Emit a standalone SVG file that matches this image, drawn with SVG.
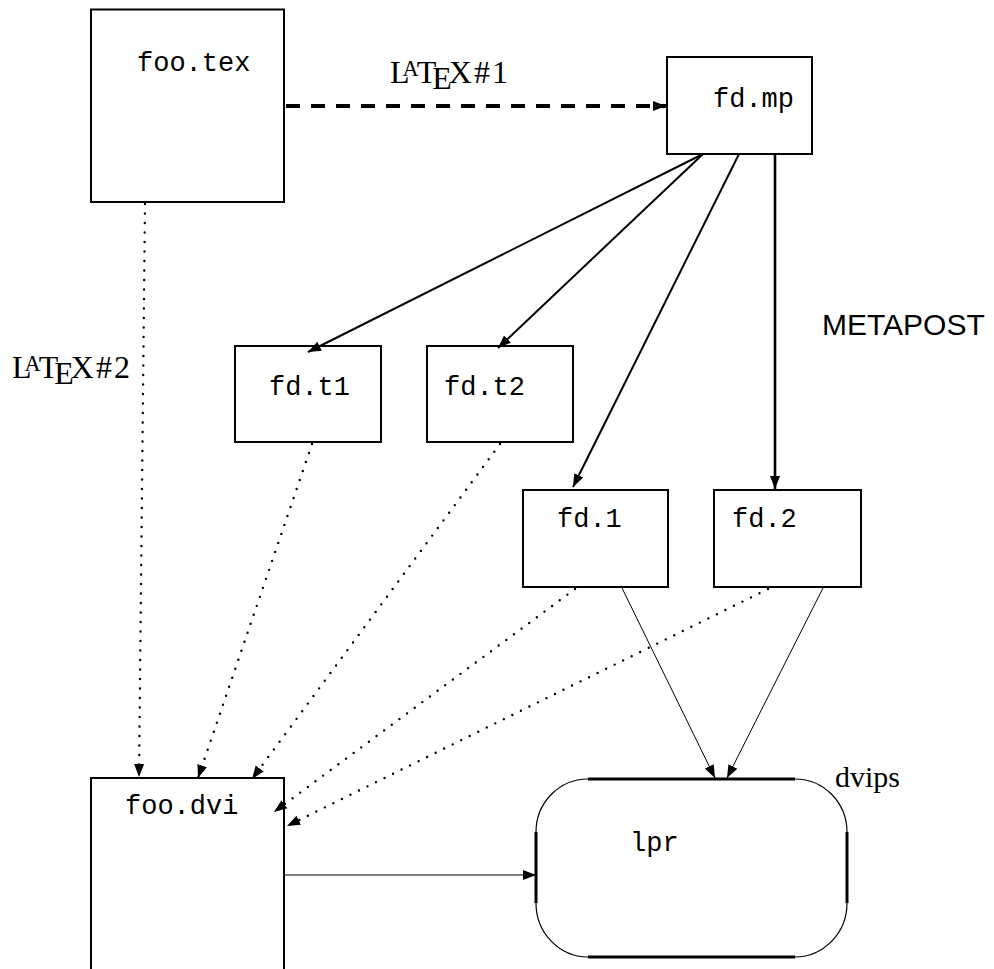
<svg xmlns="http://www.w3.org/2000/svg" width="994" height="969" viewBox="0 0 994 969">
<style>
.box{fill:none;stroke:#000;stroke-width:2}
.tt{font-family:"Liberation Mono",monospace;font-size:27px;fill:#000}
.rm{font-family:"Liberation Serif",serif;fill:#000}
.sf{font-family:"Liberation Sans",sans-serif;fill:#000}
.dot{fill:none;stroke:#000;stroke-width:2.4;stroke-linecap:round;stroke-dasharray:0 9.5}
.sol{fill:none;stroke:#000;stroke-width:2}
.thin{fill:none;stroke:#000;stroke-width:1}
</style>
<defs>
<marker id="ah" markerUnits="userSpaceOnUse" markerWidth="14" markerHeight="12" refX="13" refY="5" orient="auto" viewBox="0 0 14 10">
<path d="M0,0 L13,5 L0,10 z" fill="#000"/>
</marker>
</defs>
<rect width="994" height="969" fill="#fff"/>
<g id="connectors">
<line x1="286" y1="106" x2="666" y2="106" stroke="#000" stroke-width="4" stroke-dasharray="14 11" marker-end="url(#ah)"/>
<line class="sol" x1="703" y1="154" x2="308" y2="352" marker-end="url(#ah)"/>
<line class="sol" x1="703" y1="154" x2="498" y2="348" marker-end="url(#ah)"/>
<line class="sol" x1="739" y1="154" x2="573" y2="487" marker-end="url(#ah)"/>
<line x1="775" y1="154" x2="775" y2="489" stroke="#000" stroke-width="2.6" marker-end="url(#ah)"/>
<line class="dot" x1="145" y1="204" x2="139" y2="777" marker-end="url(#ah)"/>
<line class="dot" x1="312" y1="444" x2="198" y2="778" marker-end="url(#ah)"/>
<line class="dot" x1="500" y1="444" x2="252" y2="779" marker-end="url(#ah)"/>
<line class="dot" x1="575" y1="589" x2="274" y2="812" marker-end="url(#ah)"/>
<line class="dot" x1="768" y1="589" x2="287" y2="826" marker-end="url(#ah)"/>
<line class="thin" x1="622" y1="588" x2="715" y2="778" marker-end="url(#ah)"/>
<line class="thin" x1="823" y1="588" x2="727" y2="778" marker-end="url(#ah)"/>
<line class="thin" x1="285" y1="875" x2="536" y2="875" marker-end="url(#ah)"/>
</g>
<g id="foo_tex">
<rect class="box" x="91" y="9.5" width="193" height="192.5"/>
<text class="tt" x="137" y="71">foo.tex</text>
</g>
<g id="fd_mp">
<rect class="box" x="667" y="57" width="145" height="97"/>
<text class="tt" x="713" y="107">fd.mp</text>
</g>
<g id="fd_t1">
<rect class="box" x="235" y="346" width="146" height="96"/>
<text class="tt" x="269" y="395">fd.t1</text>
</g>
<g id="fd_t2">
<rect class="box" x="427" y="346" width="146" height="96"/>
<text class="tt" x="444" y="395">fd.t2</text>
</g>
<g id="fd_1">
<rect class="box" x="523" y="490" width="145" height="97"/>
<text class="tt" x="557" y="527">fd.1</text>
</g>
<g id="fd_2">
<rect class="box" x="714" y="490" width="147" height="97"/>
<text class="tt" x="732" y="527">fd.2</text>
</g>
<g id="foo_dvi">
<path class="box" d="M91,975 V778 H284 V975"/>
<text class="tt" x="125" y="814">foo.dvi</text>
</g>
<g id="lpr">
<path fill="none" stroke="#000" stroke-width="3" d="M588,779 H795 M847,832 V903 M795,957 H588 M536,903 V832"/>
<path fill="none" stroke="#000" stroke-width="1.2" d="M795,779 A52,53 0 0 1 847,832 M847,903 A52,54 0 0 1 795,957 M588,957 A52,54 0 0 1 536,903 M536,832 A52,53 0 0 1 588,779"/>
<text class="tt" x="630" y="851">lpr</text>
</g>
<g id="labels">
<text class="rm" x="390" y="83" font-size="32">L<tspan font-size="22.4" dx="-7" dy="-7">A</tspan><tspan dx="-2" dy="7">T</tspan><tspan dx="-4" dy="6">E</tspan><tspan dx="-3" dy="-6">X</tspan><tspan dx="2">#</tspan><tspan dx="2">1</tspan></text>
<text class="rm" x="12" y="378" font-size="32">L<tspan font-size="22.4" dx="-7" dy="-7">A</tspan><tspan dx="-2" dy="7">T</tspan><tspan dx="-4" dy="6">E</tspan><tspan dx="-3" dy="-6">X</tspan><tspan dx="2">#</tspan><tspan dx="2">2</tspan></text>
<text class="sf" x="822" y="335" font-size="30">METAPOST</text>
<text class="rm" x="835" y="787" font-size="30">dvips</text>
</g>
</svg>
